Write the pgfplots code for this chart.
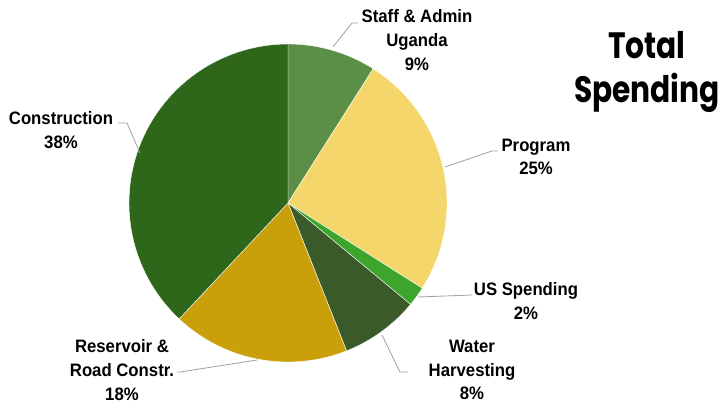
\documentclass[border=0pt]{standalone}
\usepackage{fontspec}
\usepackage{pgfplots}
\pgfplotsset{compat=1.18}
\usepackage{pgfplotstable}
\setmainfont{Liberation Sans}[FakeStretch=0.93]
\newfontfamily\titlefont{Poppins}[FakeStretch=0.81]

\definecolor{sl0}{HTML}{5B8E47}
\definecolor{sl1}{HTML}{F5D66B}
\definecolor{sl2}{HTML}{3EA52C}
\definecolor{sl3}{HTML}{3A5A2A}
\definecolor{sl4}{HTML}{C9A009}
\definecolor{sl5}{HTML}{2E661A}
\definecolor{leader}{HTML}{A0A0A0}

% share of total spending, in %, clockwise from the top
\pgfplotstableread{
label value
Staff 9
Program 25
US 2
Water 8
Reservoir 18
Construction 38
}\spending

% pie slice: start angle, end angle, colour
\newcommand\slice[3]{%
  \addplot[fill=#3, draw=white, line width=0.3pt, domain=#1:#2, samples=60, variable=\t]
    ({288+159*cos(\t)},{203-159*sin(\t)}) -- (axis cs:288,203) -- cycle;}

\begin{document}
\begin{tikzpicture}[
    lab/.style={font=\fontsize{13.5}{17.8}\selectfont\bfseries, align=center, text=black, inner sep=0pt},
    ttl/.style={font=\titlefont\bfseries\fontsize{27.5}{33}\selectfont, anchor=base, inner sep=0pt},
    ldr/.style={leader, line width=0.6pt},
]
\begin{axis}[
    width=541.5pt, height=305.25pt, scale only axis,
    xmin=0, xmax=722, ymin=0, ymax=407, y dir=reverse,
    hide axis, clip=false,
]
\path (axis cs:0,0) (axis cs:722,407);

\def\cum{0}
\pgfplotsforeachungrouped \i in {0,...,5}{%
  \pgfplotstablegetelem{\i}{value}\of\spending
  \pgfmathsetmacro\a{90-3.6*\cum}
  \pgfmathsetmacro\cum{\cum+\pgfplotsretval}
  \pgfmathsetmacro\b{90-3.6*\cum}
  \edef\tmp{\noexpand\slice{\b}{\a}{sl\i}}\tmp
}

% leader lines
\draw[ldr] (axis cs:333,47) -- (axis cs:352,23) -- (axis cs:358,23);
\draw[ldr] (axis cs:445,167) -- (axis cs:492,151) -- (axis cs:498,151);
\draw[ldr] (axis cs:418,297) -- (axis cs:472,295);
\draw[ldr] (axis cs:382,335) -- (axis cs:400,372) -- (axis cs:408,372);
\draw[ldr] (axis cs:257,360) -- (axis cs:180,372) -- (axis cs:177,372);
\draw[ldr] (axis cs:118,123) -- (axis cs:127,123) -- (axis cs:140,153);

% labels
\node[lab] at (axis cs:417,40) {Staff \& Admin\\Uganda\\9\%};
\node[lab] at (axis cs:536,157) {Program\\25\%};
\node[lab] at (axis cs:526,301) {US Spending\\2\%};
\node[lab] at (axis cs:472,370) {Water\\Harvesting\\8\%};
\node[lab] at (axis cs:122,370) {Reservoir \&\\Road Constr.\\18\%};
\node[lab] at (axis cs:61,130) {Construction\\38\%};

% title
\node[ttl] at (axis cs:647,58) {Total};
\node[ttl] at (axis cs:647,102) {Spending};
\end{axis}
\end{tikzpicture}
\end{document}
